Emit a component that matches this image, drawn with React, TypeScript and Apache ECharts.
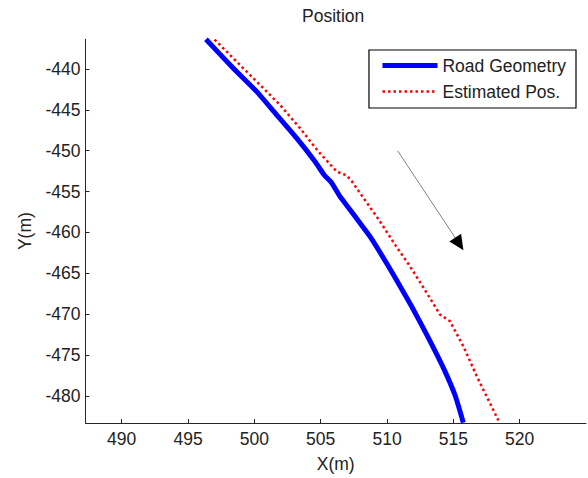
import React, { useEffect, useRef } from "react";
import * as echarts from "echarts";

const roadX = [496.35, 498.41, 500.18, 501.68, 503.19, 504.57, 505.25, 505.83, 506.45, 507.21, 507.96, 508.71, 509.5, 510.55, 511.85, 513.05, 514.3, 515.15, 515.75];
const roadY = [-436.37, -439.91, -442.77, -445.61, -448.46, -451.32, -452.94, -453.95, -455.59, -457.21, -458.84, -460.47, -462.5, -465.35, -469.02, -472.68, -476.74, -480.0, -483.25];

const estX = [497.0, 498.41, 500.18, 501.93, 503.44, 504.82, 506.21, 506.96, 507.34, 509.47, 510.6, 511.73, 512.99, 513.99, 514.74, 515.75, 516.76, 518.4];
const estY = [-436.4, -438.69, -441.55, -444.39, -447.24, -450.09, -452.54, -453.02, -453.72, -458.64, -461.48, -464.13, -467.38, -470.03, -470.84, -473.9, -477.56, -483.0];

const xTicks = [490, 495, 500, 505, 510, 515, 520];
const yTicks = [-480, -475, -470, -465, -460, -455, -450, -445, -440];

const arrowStart = [510.8, -450.0];
const arrowHeadFrom = [515.22, -460.83];
const arrowEnd = [515.45, -461.4];

const FONT = "'Liberation Sans', Arial, sans-serif";
const TXT = "#222222";
const AX = "#262626";

export default function App() {
  const ref = useRef<HTMLDivElement>(null);
  useEffect(() => {
    if (!ref.current) return;
    const chart = echarts.init(ref.current, null, { renderer: "svg" });
    const zip = (xs: number[], ys: number[]) => xs.map((x, i) => [x, ys[i]]);
    chart.setOption({
      animation: false,
      backgroundColor: "#ffffff",
      textStyle: { fontFamily: FONT },
      title: {
        text: "Position",
        left: 302,
        top: 7,
        padding: 0,
        textStyle: { fontSize: 17.5, fontWeight: "normal", color: TXT, fontFamily: FONT },
      },
      grid: { left: 85.5, right: 2, top: 39.3, bottom: 54.3, containLabel: false },
      legend: {
        orient: "vertical",
        right: 12,
        top: 50,
        padding: [6.5, 10, 7.5, 11],
        itemGap: 8,
        itemWidth: 55,
        itemHeight: 14,
        backgroundColor: "#ffffff",
        borderColor: "#000000",
        borderWidth: 1.2,
        borderRadius: 0,
        itemStyle: { opacity: 0, borderWidth: 0 },
        lineStyle: { width: "inherit" },
        textStyle: { fontSize: 17.5, color: TXT, fontFamily: FONT },
        data: ["Road Geometry", "Estimated Pos."],
      },
      xAxis: {
        type: "value",
        min: 487.27,
        max: 525,
        name: "X(m)",
        nameLocation: "middle",
        nameGap: 32,
        nameTextStyle: { fontSize: 17.5, color: TXT, fontFamily: FONT },
        axisLine: { show: true, onZero: false, lineStyle: { color: AX, width: 1 } },
        axisTick: { show: true, inside: true, length: 4, customValues: xTicks, lineStyle: { color: AX } },
        axisLabel: { customValues: xTicks, fontSize: 17.5, color: TXT, margin: 7, fontFamily: FONT },
        splitLine: { show: false },
      },
      yAxis: {
        type: "value",
        min: -483.3,
        max: -436.37,
        name: "Y(m)",
        nameLocation: "middle",
        nameGap: 52,
        nameRotate: 90,
        nameTextStyle: { fontSize: 17.5, color: TXT, fontFamily: FONT },
        axisLine: { show: true, onZero: false, lineStyle: { color: AX, width: 1 } },
        axisTick: { show: true, inside: true, length: 4, customValues: yTicks, lineStyle: { color: AX } },
        axisLabel: { customValues: yTicks, fontSize: 17.5, color: TXT, margin: 5, fontFamily: FONT },
        splitLine: { show: false },
      },
      series: [
        {
          name: "Road Geometry",
          type: "line",
          data: zip(roadX, roadY),
          showSymbol: false,
          symbol: "none",
          smooth: 0.15,
          clip: true,
          lineStyle: { color: "#0000ff", width: 5 },
          itemStyle: { color: "#0000ff" },
          markLine: {
            silent: true,
            animation: false,
            label: { show: false },
            symbol: ["none", "none"],
            data: [
              [
                { coord: arrowStart, symbol: "none", lineStyle: { color: "#808080", width: 1, type: "solid" } },
                { coord: arrowEnd, symbol: "none" },
              ],
              [
                { coord: arrowHeadFrom, symbol: "none", lineStyle: { color: "#000000", width: 1, type: "solid" } },
                { coord: arrowEnd, symbol: "triangle", symbolSize: [14, 15] },
              ],
            ],
          },
        },
        {
          name: "Estimated Pos.",
          type: "line",
          data: zip(estX, estY),
          showSymbol: false,
          symbol: "none",
          clip: true,
          lineStyle: { color: "#ff0000", width: 2.5, type: [2.5, 3] },
          itemStyle: { color: "#ff0000" },
        },
      ],
    });
    return () => chart.dispose();
  }, []);
  return <div ref={ref} style={{ width: 588, height: 478, position: "absolute", left: 0, top: 0 }} />;
}
